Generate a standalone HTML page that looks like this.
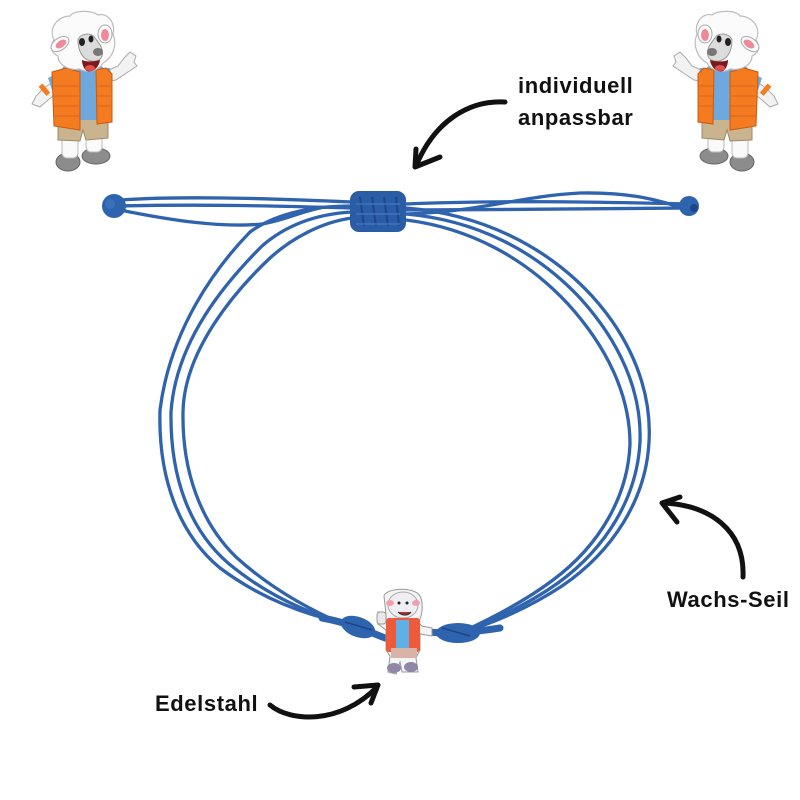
<!DOCTYPE html>
<html><head><meta charset="utf-8"><style>
html,body{margin:0;padding:0;background:#fff}
svg{display:block}
text{font-family:"Liberation Sans",Arial,sans-serif;font-weight:bold;font-size:22px;fill:#111;letter-spacing:0.6px}
</style></head><body>
<svg width="800" height="800" viewBox="0 0 800 800" xmlns="http://www.w3.org/2000/svg">
<rect width="800" height="800" fill="#fff"/>
<defs>
<g id="sheep">
  <ellipse cx="68" cy="162" rx="12" ry="9" fill="#8c8c8c" stroke="#666" stroke-width="1"/>
  <ellipse cx="96" cy="156" rx="14" ry="8" fill="#8c8c8c" stroke="#666" stroke-width="1"/>
  <rect x="62" y="136" width="16" height="22" rx="5" fill="#fafafa" stroke="#bbb" stroke-width="1"/>
  <rect x="86" y="134" width="16" height="18" rx="5" fill="#fafafa" stroke="#bbb" stroke-width="1"/>
  <path d="M58,118 L108,116 L108,138 L86,140 L83,130 L80,141 L58,140 Z" fill="#c9b48f" stroke="#9c8a69" stroke-width="1"/>
  <path d="M56,80 L44,88 L36,96 L32,104 L40,107 L48,100 L58,92 Z" fill="#f2f2f2" stroke="#aaa" stroke-width="1"/>
  <rect x="42" y="84" width="5" height="12" fill="#f47b20" transform="rotate(-40 44 90)"/>
  <path d="M48,78 L60,72 L62,88 L52,90 Z" fill="#6fa8dc"/>
  <path d="M104,72 L118,66 L124,58 L130,52 L136,56 L134,62 L137,66 L128,72 L116,80 L106,82 Z" fill="#f2f2f2" stroke="#aaa" stroke-width="1"/>
  <path d="M100,68 L110,68 L112,80 L102,82 Z" fill="#6fa8dc"/>
  <rect x="62" y="66" width="42" height="54" rx="4" fill="#6fa8dc"/>
  <path d="M52,72 L66,68 L80,72 L80,130 L54,126 Z" fill="#f47b20" stroke="#c85a10" stroke-width="1"/>
  <path d="M96,70 L106,68 L112,74 L112,122 L97,124 Z" fill="#f47b20" stroke="#c85a10" stroke-width="1"/>
  <g stroke="#d9661a" stroke-width="1">
    <line x1="54" y1="86" x2="80" y2="86"/><line x1="54" y1="96" x2="80" y2="96"/>
    <line x1="54" y1="106" x2="80" y2="106"/><line x1="54" y1="116" x2="80" y2="116"/>
    <line x1="97" y1="86" x2="112" y2="86"/><line x1="97" y1="96" x2="112" y2="96"/>
    <line x1="97" y1="106" x2="112" y2="106"/>
  </g>
  <path d="M54,40 C48,28 58,16 70,16 C74,10 92,10 98,15 C108,12 116,24 113,34 C118,46 112,58 103,63 C98,72 86,73 80,69 C69,71 58,65 58,56 C50,52 50,46 54,40 Z" fill="#fbfbfb" stroke="#bdbdbd" stroke-width="1.2"/>
  <ellipse cx="60" cy="44" rx="10" ry="6" transform="rotate(-35 60 44)" fill="#fff" stroke="#aaa" stroke-width="1"/>
  <ellipse cx="61" cy="44" rx="6" ry="3.5" transform="rotate(-35 61 44)" fill="#f08a98"/>
  <ellipse cx="105" cy="34" rx="7" ry="9" fill="#fff" stroke="#aaa" stroke-width="1"/>
  <ellipse cx="105" cy="35" rx="4" ry="6" fill="#f08a98"/>
  <path d="M78,40 C80,33 92,32 95,38 C100,44 104,50 102,56 C100,62 92,62 88,60 C82,58 78,50 78,40 Z" fill="#dcdcdc" stroke="#999" stroke-width="1"/>
  <ellipse cx="82" cy="42" rx="3" ry="4" fill="#222"/>
  <ellipse cx="91" cy="39" rx="2.5" ry="3.5" fill="#222"/>
  <ellipse cx="98" cy="52" rx="5" ry="4" fill="#777"/>
  <path d="M82,60 C86,62 94,62 100,60 C99,68 92,73 87,71 C84,69 82,65 82,60 Z" fill="#7a1a1a"/>
  <ellipse cx="90" cy="68" rx="5" ry="3" fill="#e05050"/>
</g>
</defs>

<use href="#sheep"/>
<use href="#sheep" transform="translate(810,0) scale(-1,1)"/>

<g fill="none" stroke="#2f63ae" stroke-width="3.3" stroke-linecap="round">
  <path d="M120,200 C180,196 260,198 352,202"/>
  <path d="M120,206 C200,204 280,206 352,208"/>
  <path d="M120,210 C170,220 220,228 262,224 C285,220 300,212 320,208"/>
  <path d="M405,204 C500,200 600,202 688,204"/>
  <path d="M405,210 C500,210 600,208 688,208"/>
  <path d="M405,214 C480,212 520,196 580,193 C630,192 660,200 688,210"/>
  <path d="M352,206 C310,206 275,214 250,232 C215,268 170,330 160,410 C158,480 180,535 220,568 C260,598 305,615 345,623"/>
  <path d="M352,212 C315,214 285,226 262,246 C226,282 176,340 171,412 C170,478 190,530 228,563 C265,594 308,613 345,624"/>
  <path d="M352,218 C322,222 292,238 270,258 C236,290 184,350 183,412 C182,470 200,522 236,557 C270,588 310,610 345,625"/>
  <path d="M406,208 C480,214 545,245 592,296 C632,340 652,392 649,442 C646,500 612,552 562,586 C530,607 492,624 462,632"/>
  <path d="M406,214 C475,220 535,250 580,298 C620,342 642,392 640,442 C637,498 606,548 558,583 C527,605 490,622 462,632"/>
  <path d="M406,220 C470,228 525,258 568,304 C606,346 630,394 630,444 C628,496 600,545 553,580 C524,602 488,620 462,632"/>
  <path d="M322,618 C345,622 365,630 385,638" stroke-width="7"/>
  <path d="M428,632 C450,634 475,632 500,628" stroke-width="7"/>
</g>
<circle cx="114" cy="206" r="12" fill="#2e63ae"/>
<circle cx="110" cy="204" r="5" fill="#3b70bb"/>
<circle cx="689" cy="206" r="10" fill="#2e63ae"/>
<circle cx="694" cy="208" r="4" fill="#1d4688"/>
<rect x="350" y="191" width="56" height="41" rx="9" fill="#2b5ca6"/>
<g stroke="#1d4688" stroke-width="2" fill="none">
  <path d="M360,197 L364,226 M372,197 L376,226 M384,197 L388,226 M396,197 L399,226"/>
  <path d="M356,204 L400,204 M356,214 L400,214 M356,224 L400,224" stroke="#3f74c0" stroke-width="1.5"/>
</g>
<ellipse cx="358" cy="627" rx="18" ry="10" transform="rotate(20 358 627)" fill="#2e63ae"/>
<ellipse cx="458" cy="633" rx="22" ry="10" fill="#2e63ae"/>
<path d="M345,622 L372,630 M442,628 L470,636" stroke="#1d4688" stroke-width="1.5"/>

<g>
  <path d="M384,596 C386,588 414,586 420,596 C424,604 422,618 418,622 L422,626 L432,628 L432,636 L420,634 L420,650 L416,658 L418,672 L402,672 L400,662 L396,674 L388,672 L390,656 L386,650 L386,630 L378,624 L378,612 L386,614 Z" fill="#f4f4f6" stroke="#999" stroke-width="1"/>
  <ellipse cx="403" cy="605" rx="15" ry="13" fill="#efeff3" stroke="#aaa" stroke-width="1"/>
  <ellipse cx="390" cy="603" rx="4" ry="3" fill="#f0a0b0"/>
  <ellipse cx="416" cy="603" rx="4" ry="3" fill="#f0a0b0"/>
  <path d="M398,612 C402,616 408,616 411,612" stroke="#333" stroke-width="1.2" fill="#a33"/>
  <circle cx="399" cy="603" r="1.5" fill="#222"/><circle cx="407" cy="603" r="1.5" fill="#222"/>
  <rect x="386" y="618" width="34" height="34" rx="3" fill="#ee5a3a"/>
  <rect x="396" y="620" width="13" height="28" fill="#5fb0e6"/>
  <rect x="391" y="648" width="26" height="10" fill="#d8b4a8"/>
  <ellipse cx="394" cy="668" rx="7" ry="5" fill="#8f86a8"/>
  <ellipse cx="411" cy="667" rx="7" ry="5" fill="#8f86a8"/>
  <rect x="377" y="612" width="9" height="12" rx="3" fill="#e8e8e8" stroke="#999" stroke-width="1"/>
</g>

<g fill="none" stroke="#111" stroke-width="5" stroke-linecap="round" stroke-linejoin="round">
  <path d="M505,102 C470,100 435,120 416,166"/>
  <path d="M416,149 L415,167 L440,157"/>
  <path d="M270,705 C290,722 340,725 377,687"/>
  <path d="M354,687 L378,685 L371,703"/>
  <path d="M743,577 C745,530 710,505 663,503"/>
  <path d="M680,497 L662,503 L677,522"/>
</g>

<text x="518" y="93">individuell</text>
<text x="518" y="125">anpassbar</text>
<text x="155" y="711">Edelstahl</text>
<text x="667" y="607">Wachs-Seil</text>
</svg>
</body></html>
